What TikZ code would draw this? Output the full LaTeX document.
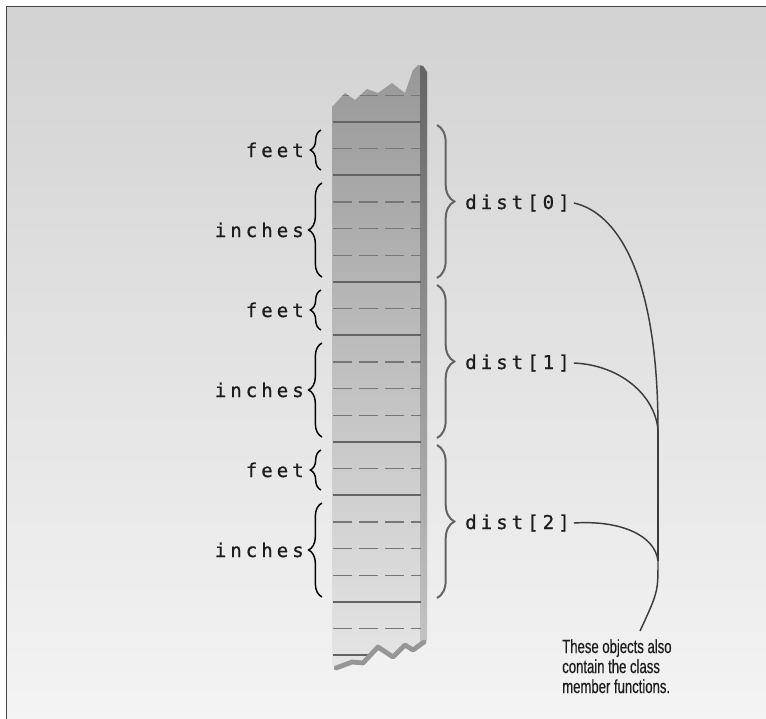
\documentclass[tikz,border=0pt]{standalone}
\usepackage{fontspec}
\usetikzlibrary{decorations.pathreplacing}
\newfontfamily\lblfont[LetterSpace=21,FakeBold=0.8]{DejaVu Sans Mono}
\newfontfamily\notefont[FakeStretch=0.69,FakeBold=0.4]{Liberation Sans}
\definecolor{bgtop}{RGB}{210,210,210}
\definecolor{bgbot}{RGB}{244,244,244}
\definecolor{coltop}{RGB}{152,152,152}
\definecolor{colbot}{RGB}{230,230,230}
\definecolor{striptop}{RGB}{100,100,100}
\definecolor{stripbot}{RGB}{200,200,200}
\definecolor{bordergray}{RGB}{70,70,70}
\definecolor{linegray}{RGB}{100,100,100}
\definecolor{dashgray}{RGB}{118,118,118}
\definecolor{zigzag}{RGB}{150,150,150}
\definecolor{rbracegray}{RGB}{100,100,100}
\definecolor{conngray}{RGB}{60,60,60}
\definecolor{txt}{RGB}{28,28,28}
\pgfdeclareverticalshading{bgshade}{100bp}{color(0bp)=(bgbot); color(25bp)=(bgbot); color(75bp)=(bgtop); color(100bp)=(bgtop)}
\pgfdeclareverticalshading{colshade}{100bp}{color(0bp)=(colbot); color(25bp)=(colbot); color(75bp)=(coltop); color(100bp)=(coltop)}
\pgfdeclareverticalshading{stripshade}{100bp}{color(0bp)=(stripbot); color(25bp)=(stripbot); color(75bp)=(striptop); color(100bp)=(striptop)}
\tikzset{
  lbl/.style={font=\lblfont\fontsize{14.3pt}{16pt}\selectfont, text=txt, inner sep=0pt},
  note/.style={font=\notefont\fontsize{14.25pt}{15pt}\selectfont, text=txt, inner sep=0pt, align=left},
  solidln/.style={draw=linegray, line width=1.5pt},
  dashln/.style={draw=dashgray, line width=1.2pt, dash pattern=on 14pt off 5.5pt},
  lbrace/.style={draw=black, line width=1.1pt, decorate},
  rbrace/.style={draw=rbracegray, line width=1.5pt, decorate, decoration={brace, amplitude=13pt}},
  conn/.style={draw=conngray, line width=1.1pt},
}
\begin{document}
\begin{tikzpicture}[x=0.75pt,y=-0.75pt]
\useasboundingbox (0,0) rectangle (766,718);
% background
\fill[white] (0,0) rectangle (766,718);
\shade[shading=bgshade] (7,7) rectangle (772,724);
\draw[bordergray, line width=1.2pt] (6.5,724) -- (6.5,6.5) -- (772,6.5);
% memory column
\def\colpath{(332,107) -- (345,93) -- (355,100) -- (367,89) -- (378,93) -- (392,83) -- (405,93) -- (413,70) -- (418,65) -- (423,66) -- (427,72) -- (427,640) -- (423,643) -- (413,650) -- (405,645) -- (393,657) -- (378,647) -- (363,663) -- (352,662) -- (337,668) -- (332,665) -- cycle}
\begin{scope}
  \clip \colpath;
  \shade[shading=colshade] (328,64) rectangle (432,670);
  \shade[shading=stripshade] (420,64) rectangle (432,670);
  \foreach \k in {0,2,6,8,12,14,18,20}
    \draw[solidln] (333,{122+\k*26.667}) -- (421,{122+\k*26.667});
  \foreach \k in {-1,1,3,4,5,7,9,10,11,13,15,16,17,19}
    \draw[dashln] (333,{122+\k*26.667}) -- (421,{122+\k*26.667});
\end{scope}
\draw[zigzag, line width=3.6pt, line join=round, line cap=round]
  (336,668) -- (352,662) -- (363,663) -- (378,647) -- (393,657) -- (405,645) -- (413,650) -- (424,642);
% labels and braces
\foreach \e in {0,1,2}{
  \node[lbl, anchor=base east] (feet\e) at (304,{157+160*\e}) {feet};
  \node[lbl, anchor=base east] (inch\e) at (304,{237+160*\e}) {inches};
  \node[lbl, anchor=base west] (dist\e) at (465,{209+160*\e}) {dist[\e]};
  \draw[lbrace, decoration={brace, amplitude=8pt}] (321,{170+160*\e}) -- (321,{130+160*\e});
  \draw[lbrace, decoration={brace, amplitude=10pt}] (322,{277+160*\e}) -- (322,{183+160*\e});
  \draw[rbrace] (437,{125+160*\e}) -- (437,{278+160*\e});
}
% connectors
\coordinate (j1) at (658,430);
\coordinate (j2) at (658,561);
\coordinate (nt) at (640,631);
\node[note, anchor=north west] (note) at (562,639) {These objects also\\contain the class\\member functions.};
\draw[conn] ([xshift=3pt]dist0.east) .. controls (615,212) and (658,270) .. (j1);
\draw[conn] ([xshift=3pt]dist1.east) .. controls (620,365) and (655,395) .. (j1);
\draw[conn] (j1) -- (j2);
\draw[conn] ([xshift=3pt]dist2.east) .. controls (620,520) and (655,535) .. (j2);
\draw[conn] (j2) .. controls (658,592) .. (nt);
\end{tikzpicture}
\end{document}
